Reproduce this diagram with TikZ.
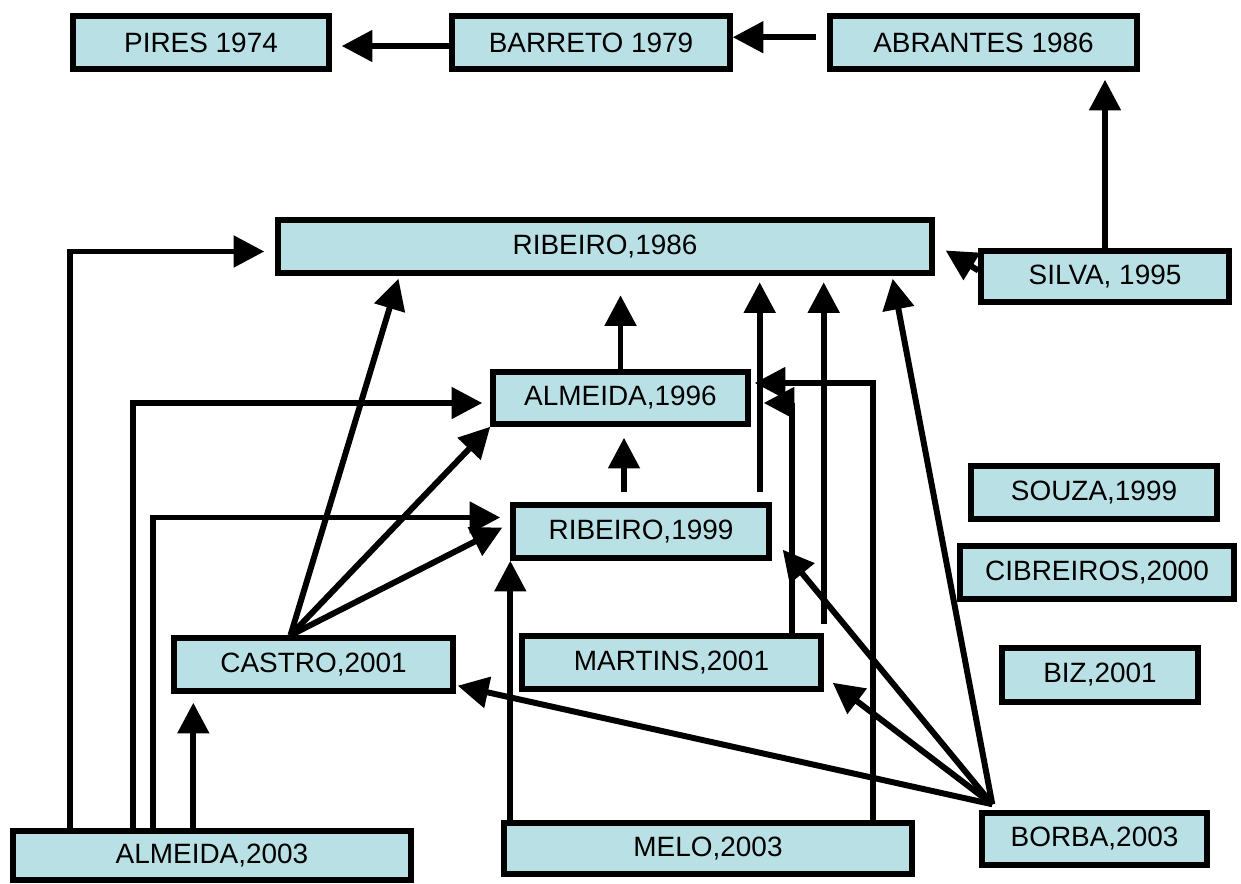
\documentclass[tikz,border=0pt]{standalone}
\usepackage{fontspec}
\setmainfont{Liberation Sans}
\usetikzlibrary{arrows.meta,calc}
\definecolor{boxfill}{RGB}{185,224,228}

\begin{document}
\begin{tikzpicture}[x=0.02cm, y=-0.02cm,
    ref/.style={draw, fill=boxfill, line width=3.1pt, inner sep=0pt,
        minimum height=1.06cm, font=\fontsize{15.9}{18}\selectfont},
    link/.style={line width=3.4pt, -{Triangle[length=17.5pt,width=17.5pt]}}]
    \useasboundingbox (0,0) rectangle (1241,884);

    % top row
    \node [ref, minimum width=5.12cm] (pires) at (201,42.5) {PIRES 1974};
    \node [ref, minimum width=5.56cm] (barreto) at (591,42.5) {BARRETO 1979};
    \node [ref, minimum width=6.14cm] (abrantes) at (983.5,42.5) {ABRANTES 1986};

    \node [ref, minimum width=13.08cm] (rib86) at (605,246.5) {RIBEIRO,1986};
    \node [ref, minimum width=4.96cm, minimum height=1.02cm] (silva) at (1105,276.5) {SILVA, 1995};
    \node [ref, minimum width=5.1cm, minimum height=1.04cm] (alm96) at (620.5,398) {ALMEIDA,1996};
    \node [ref, minimum width=5.12cm] (rib99) at (641,531.5) {RIBEIRO,1999};
    \node [ref, minimum width=4.92cm] (souza) at (1094,492.5) {SOUZA,1999};
    \node [ref, minimum width=5.48cm] (cib) at (1097,572.5) {CIBREIROS,2000};
    \node [ref, minimum width=5.98cm] (martins) at (671.5,662.5) {MARTINS,2001};
    \node [ref, minimum width=5.58cm] (castro) at (313.5,664.5) {CASTRO,2001};
    \node [ref, minimum width=3.92cm, minimum height=1.08cm] (biz) at (1100,675) {BIZ,2001};

    % bottom row
    \node [ref, minimum width=7.96cm, minimum height=0.98cm] (alm03) at (212,855.5) {ALMEIDA,2003};
    \node [ref, minimum width=8.16cm, minimum height=1.02cm] (melo) at (708,848.5) {MELO,2003};
    \node [ref, minimum width=4.5cm, minimum height=1.04cm] (borba) at (1094.5,839) {BORBA,2003};

    \draw [link, shorten >=0.2cm] ([yshift=-2pt]barreto.west) -- ([yshift=-2pt]pires.east);
    \draw [link, shorten <=0.22cm] ([yshift=3pt]abrantes.west) -- ([yshift=3pt]barreto.east);
    \draw [link, shorten >=0.16cm] (silva.north) -- (silva.north |- abrantes.south);
    \draw [link] ($(silva.west)+(0,-6)$) -- ($(rib86.east)+(11,4)$);

    \draw [link, shorten >=0.22cm] ($(alm03.north west)+(60,0)$) |- ($(rib86.west)+(0,5)$);
    \draw [link, shorten >=0.16cm] ($(alm03.north west)+(123,0)$) |- ($(alm96.west)+(0,5)$);
    \draw [link, shorten >=0.2cm] ($(alm03.north west)+(143,0)$) |- ($(rib99.west)+(0,-14)$);
    \coordinate (a4) at ($(alm03.north west)+(183,0)$);
    \draw [link, shorten >=0.18cm] (a4) -- (a4 |- castro.south);

    \coordinate (cs) at ($(castro.north)+(-23,0)$);
    \draw [link, shorten >=0.06cm] (cs) -- ($(rib86.south west)+(124,0)$);
    \draw [link] (cs) -- (alm96.south west);
    \draw [link, shorten >=0.18cm] (cs) -- ($(rib99.west)+(0,-8)$);

    \draw [link, shorten >=0.39cm] (alm96.north) -- (alm96.north |- rib86.south);
    \coordinate (r1) at ($(rib99.north)+(-17,0)$);
    \draw [link, shorten <=0.2cm, shorten >=0.22cm] (r1) -- (r1 |- alm96.south);
    \coordinate (r2) at ($(rib99.north east)+(-12,0)$);
    \draw [link, shorten <=0.2cm, shorten >=0.13cm] (r2) -- (r2 |- rib86.south);

    \draw [link, shorten <=0.18cm, shorten >=0.13cm] (martins.north east) -- (martins.north east |- rib86.south);
    \draw [link, shorten >=0.26cm] ($(martins.north east)+(-32,0)$) |- ($(alm96.east)+(0,5)$);
    \draw [link, shorten >=0.08cm] ($(melo.north east)+(-42,0)$) |- ($(alm96.east)+(0,-15)$);
    \coordinate (m1) at ($(melo.north west)+(9,0)$);
    \draw [link] (m1) -- (m1 |- rib99.south);

    \coordinate (bs) at ($(borba.north west)+(13,-6)$);
    \draw [link] (bs) -- ($(castro.south east)+(2,-8)$);
    \draw [link] (bs) -- ($(martins.south east)+(9,-9)$);
    \draw [link] (bs) -- ($(rib99.south east)+(11,-11)$);
    \draw [link] (bs) -- ($(rib86.south east)+(-42,3)$);
\end{tikzpicture}
\end{document}
